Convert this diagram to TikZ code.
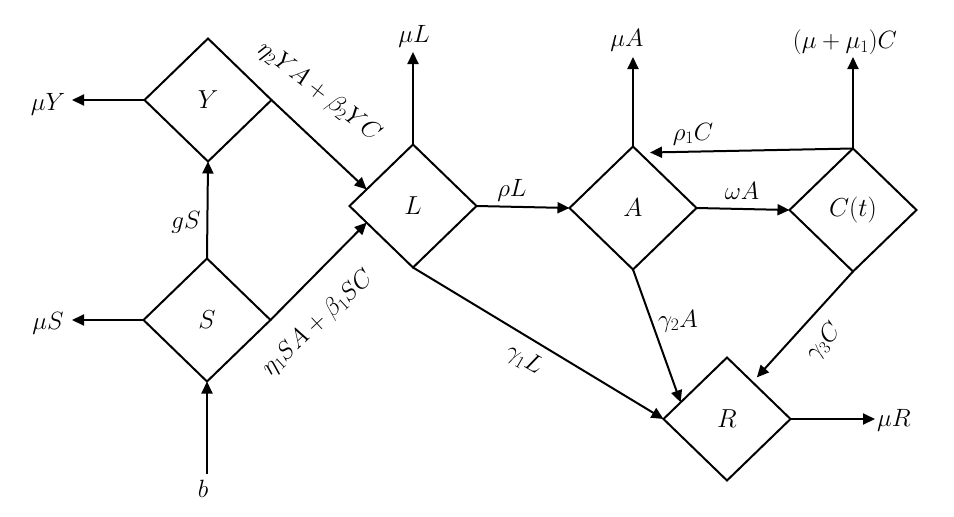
\RequirePackage{fix-cm}
\documentclass[tikz,border=0pt]{standalone}
\usetikzlibrary{shapes.geometric,arrows.meta,calc}
\begin{document}
\begin{tikzpicture}[x=1pt,y=-1pt,
  box/.style={diamond,draw,line width=2pt,minimum width=127pt,minimum height=123pt,inner sep=0pt,outer sep=0pt,font=\fontsize{26}{30}\selectfont},
  arr/.style={-{Triangle[length=12pt,width=11pt]},line width=2pt},
  lbl/.style={inner sep=0pt,font=\fontsize{25}{29}\selectfont}]
\useasboundingbox (0,0) rectangle (954,517);
% compartments
\node[box] (Y) at (208,100) {$Y$};
\node[box] (S) at (207,320) {$S$};
\node[box] (L) at (413,206) {$L$};
\node[box] (A) at (633,208) {$A$};
\node[box] (C) at (853,210) {$C(t)$};
\node[box] (R) at (727,419) {$R$};
% free ends
\coordinate (muYend) at (72,100);
\coordinate (muSend) at (72,320);
\coordinate (bstart) at (207,474);
\coordinate (muLend) at (413,52);
\coordinate (muAend) at (633,57);
\coordinate (muCend) at (853,57);
\coordinate (muRend) at (875,419);
% labels
\node[lbl] (lmuY) at (48,104) {$\mu Y$};
\node[lbl] (lmuS) at (48,323) {$\mu S$};
\node[lbl] (lb) at (203,489) {$b$};
\node[lbl] (lgS) at (186,222) {$gS$};
\node[lbl,rotate=-38] (lYL) at (319,92) {$\eta_2 YA+\beta_2 YC$};
\node[lbl,rotate=43] (lSL) at (318,323) {$\eta_1 SA+\beta_1 SC$};
\node[lbl] (lmuL) at (414,36) {$\mu L$};
\node[lbl] (lrhoL) at (512,190) {$\rho L$};
\node[lbl] (lmuA) at (627,40) {$\mu A$};
\node[lbl] (lomegaA) at (742,191) {$\omega A$};
\node[lbl] (lmuC) at (845,42) {$(\mu+\mu_1)C$};
\node[lbl] (lrhoC) at (693,134) {$\rho_1 C$};
\node[lbl] (lg2A) at (678,321) {$\gamma_2 A$};
\node[lbl,rotate=48] (lg3C) at (824,342) {$\gamma_3 C$};
\node[lbl,rotate=-30] (lg1L) at (524,360) {$\gamma_1 L$};
\node[lbl] (lmuR) at (894,420) {$\mu R$};
% connectors
\draw[arr] (Y.west) -- (muYend);
\draw[arr] (S.west) -- (muSend);
\draw[arr] (bstart) -- (S.south);
\draw[arr] (S.north) -- (Y.south);
\draw[arr] (Y.east) -- ($(L.west)!0.27!(L.north)$);
\draw[arr] (S.east) -- ($(L.west)!0.27!(L.south)$);
\draw[arr] (L.north) -- (muLend);
\draw[arr] (L.east) -- (A.west);
\draw[arr] (A.north) -- (muAend);
\draw[arr] (A.east) -- (C.west);
\draw[arr] (C.north) -- (muCend);
\draw[arr] (C.north) -- ($(A.north)+(17,6)$);
\draw[arr] (A.south) -- ($(R.west)!0.27!(R.north)$);
\draw[arr] (C.south) -- ($(R.north)!0.47!(R.east)+(0,-9)$);
\draw[arr] (L.south) -- (R.west);
\draw[arr] (R.east) -- (muRend);
\end{tikzpicture}
\end{document}
